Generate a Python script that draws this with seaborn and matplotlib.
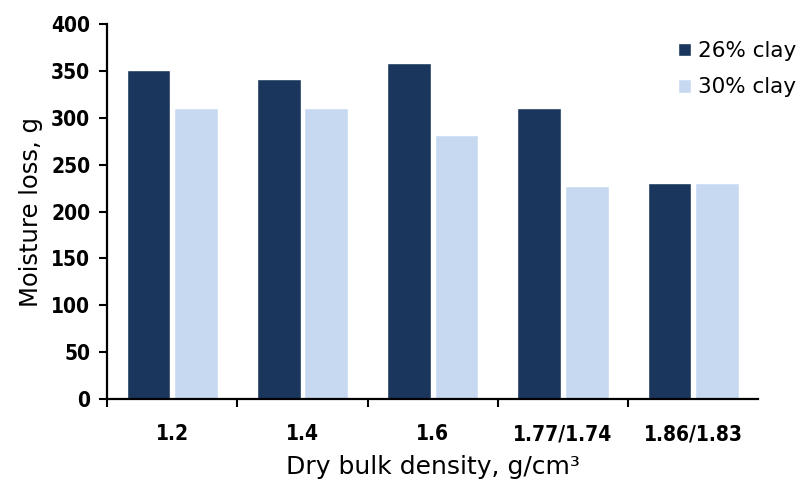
import pandas as pd
import matplotlib.pyplot as plt
import seaborn as sns
from matplotlib.ticker import FixedLocator

# --- Data ---
categories = ["1.2", "1.4", "1.6", "1.77/1.74", "1.86/1.83"]
clay_26 = [351, 341, 358, 311, 231]
clay_30 = [311, 311, 282, 227, 230]
series_names = ["26% clay", "30% clay"]
y_ticks = [0, 50, 100, 150, 200, 250, 300, 350, 400]

DARK = "#1a365d"
LIGHT = "#c6d9f0"


def main():
    df = pd.DataFrame({
        "Density": categories * 2,
        "Loss": clay_26 + clay_30,
        "Series": [series_names[0]] * len(categories) + [series_names[1]] * len(categories),
    })

    sns.set_theme(style="white")
    plt.rcParams['font.family'] = ['DejaVu Sans']
    plt.rcParams['text.color'] = 'black'
    plt.rcParams['axes.labelcolor'] = 'black'
    plt.rcParams['xtick.color'] = 'black'
    plt.rcParams['ytick.color'] = 'black'

    fig = plt.figure(figsize=(8.03, 4.82), dpi=100)
    ax = fig.add_axes([0.1333, 0.172, 0.811, 0.778])

    sns.barplot(data=df, x="Density", y="Loss", hue="Series",
                palette=[DARK, LIGHT], width=0.73, gap=0.08,
                saturation=1, ax=ax)

    ax.set_xlim(-0.5, 4.5)
    ax.set_ylim(0, 400)

    for s in ["top", "right"]:
        ax.spines[s].set_visible(False)
    for s in ["left", "bottom"]:
        ax.spines[s].set_color("black")
        ax.spines[s].set_linewidth(1.6)

    # tick fonts: condensed bold
    tick_font = dict(family=["DejaVu Sans"], stretch="condensed", weight="bold", size=15)
    ax.set_yticks(y_ticks)
    ax.set_yticklabels([str(v) for v in y_ticks], **tick_font)
    ax.tick_params(axis="y", direction="out", length=6, width=1.5, pad=6, left=True)

    # x: labels at centers, tick marks at category boundaries
    ax.set_xticks(range(len(categories)))
    ax.set_xticklabels(categories, **tick_font)
    ax.tick_params(axis="x", which="major", length=0, pad=18)
    ax.xaxis.set_minor_locator(FixedLocator([i - 0.5 for i in range(len(categories))]))
    ax.tick_params(axis="x", which="minor", direction="out", length=6, width=1.5, bottom=True)

    ax.set_xlabel("Dry bulk density, g/cm³", fontsize=18, labelpad=8)
    ax.set_ylabel("Moisture loss, g", fontsize=17.5, labelpad=6)

    ax.legend(loc="upper left", bbox_to_anchor=(0.877, 0.954), frameon=False,
              borderaxespad=0, borderpad=0,
              fontsize=15.5, handlelength=0.58, handleheight=0.58,
              handletextpad=0.35, labelspacing=0.75)

    plt.savefig("out.png", dpi=100)


if __name__ == "__main__":
    main()
